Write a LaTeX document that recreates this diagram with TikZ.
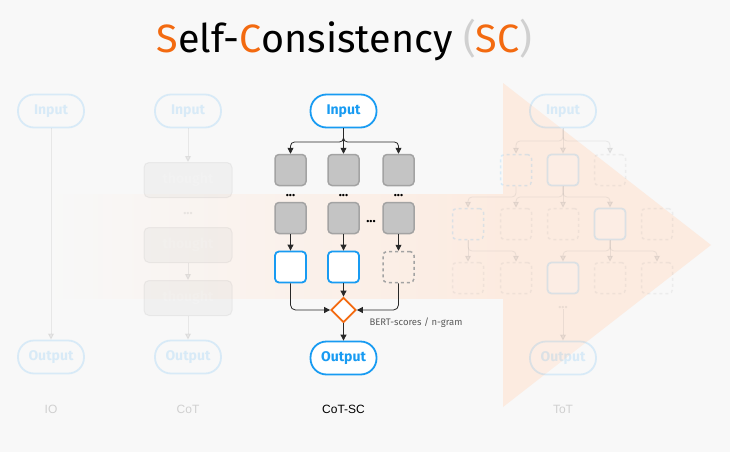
\documentclass[tikz,border=0pt]{standalone}
\usepackage{fontspec}
\setmainfont{Fira Sans}
\newfontfamily\labelfont{Liberation Sans}
\usetikzlibrary{arrows.meta}
\usetikzlibrary{positioning}
\usetikzlibrary{shapes.geometric}

\definecolor{sblue}{RGB}{24,155,242}
\definecolor{sorange}{RGB}{243,106,16}
\definecolor{bgcol}{RGB}{248,248,248}
\definecolor{tint}{RGB}{252,235,224}
\definecolor{gfill}{RGB}{196,196,196}
\definecolor{gline}{RGB}{163,163,163}
\definecolor{darkline}{RGB}{40,40,40}
\definecolor{lgray}{RGB}{208,208,208}
\definecolor{scoregray}{RGB}{90,90,90}

\tikzset{
  term/.style={draw=sblue, line width=1.8pt, fill=white, rounded corners=16pt,
    minimum width=66pt, minimum height=33pt, text=sblue,
    font=\fontsize{14}{14}\selectfont\bfseries},
  gbox/.style={draw=gline, fill=gfill, line width=1.5pt, rounded corners=4pt,
    minimum size=31pt, inner sep=0pt},
  bbox/.style={draw=sblue, fill=white, line width=1.8pt, rounded corners=4pt,
    minimum size=31pt, inner sep=0pt},
  dbox/.style={draw=gline, dashed, line width=1.5pt, rounded corners=4pt,
    minimum size=31pt, inner sep=0pt},
  dbbox/.style={dbox, draw=sblue},
  thought/.style={fill=gfill, draw=gline, line width=1pt, rounded corners=5pt,
    minimum width=88pt, minimum height=35pt, text=white,
    font=\fontsize{14}{14}\selectfont\bfseries},
  vote/.style={diamond, draw=sorange, fill=white, line width=1.8pt,
    minimum size=25pt, inner sep=0pt},
  dots/.style={font=\fontsize{13}{13}\selectfont\bfseries, inner sep=0pt},
  caplabel/.style={font=\labelfont\fontsize{12}{12}\selectfont},
  arr/.style={-{Triangle[length=6pt,width=6pt]}, draw=darkline, line width=0.8pt},
  farr/.style={arr, draw=gray},
  fade/.style={opacity=0.14},
}

\begin{document}
\begin{tikzpicture}[x=1pt, y=-1pt]
  \fill[bgcol] (0,0) rectangle (730,452);
  \useasboundingbox (0,0) rectangle (730,452);

  % big arrow behind everything
  \shade[left color=bgcol, right color=tint] (45,194) rectangle (504,298);
  \fill[tint] (503,83) -- (711,245) -- (503,407) -- cycle;

  % title
  \node (title) at (344.5,40) {\fontsize{39.5}{39.5}\selectfont
    \textcolor{sorange}{S}elf-\textcolor{sorange}{C}onsistency
    \textcolor{lgray}{(}\textcolor{sorange}{SC}\textcolor{lgray}{)}};

  % IO
  \begin{scope}[fade]
    \node[term] (ioin) at (51,111) {Input};
    \node[term] (ioout) at (51,357) {Output};
    \draw[farr] (ioin) -- (ioout);
  \end{scope}
  \node[caplabel, text=lgray] (iolab) at (51,409) {IO};

  % CoT
  \begin{scope}[fade]
    \node[term] (cotin) at (188,111) {Input};
    \node[thought] (th1) at (188,180) {thought};
    \node[dots, text=gray] (cotdots) at (188,214) {...};
    \node[thought] (th2) at (188,245) {thought};
    \node[thought] (th3) at (188,298) {thought};
    \node[term] (cotout) at (188,357) {Output};
    \draw[farr] (cotin) -- (th1);
    \draw[farr] (th2) -- (th3);
    \draw[farr] (th3) -- (cotout);
  \end{scope}
  \node[caplabel, text=lgray] (cotlab) at (188,409) {CoT};

  % ToT
  \begin{scope}[fade]
    \node[term] (totin) at (563,111) {Input};
    \node[dbbox] (p1) at (516,170) {};
    \node[bbox] (p2) at (563,170) {};
    \node[dbox] (p3) at (610,170) {};
    \node[dbbox] (q1) at (468,224) {};
    \node[dbox] (q2) at (516,224) {};
    \node[dbox] (q3) at (563,224) {};
    \node[bbox] (q4) at (610,224) {};
    \node[dbox] (q5) at (657,224) {};
    \node[dbox] (r1) at (468,278) {};
    \node[dbox] (r2) at (516,278) {};
    \node[bbox] (r3) at (563,278) {};
    \node[dbox] (r4) at (610,278) {};
    \node[dbox] (r5) at (657,278) {};
    \node[dots, text=gray] (totdots) at (563,308) {...};
    \node[term] (totout) at (563,358) {Output};

    \coordinate (ts0) at (563,141);
    \coordinate (ts1) at (516,197);
    \coordinate (ts2) at (563,197);
    \coordinate (ts3) at (468,251);
    \coordinate (ts4) at (610,251);
    \draw[farr] (totin) -- (p2);
    \draw[farr, rounded corners=4pt] (totin.south) -- (ts0) -| (p1.north);
    \draw[farr, rounded corners=4pt] (totin.south) -- (ts0) -| (p3.north);
    \draw[farr, rounded corners=4pt] (p1.south) -- (ts1) -| (q1.north);
    \draw[farr] (p2) -- (q3);
    \draw[farr, rounded corners=4pt] (p2.south) -- (ts2) -| (q2.north);
    \draw[farr, rounded corners=4pt] (p2.south) -- (ts2) -| (q4.north);
    \draw[farr] (q1) -- (r1);
    \draw[farr, rounded corners=4pt] (q1.south) -- (ts3) -| (r2.north);
    \draw[farr] (q4) -- (r4);
    \draw[farr, rounded corners=4pt] (q4.south) -- (ts4) -| (r3.north);
    \draw[farr, rounded corners=4pt] (q4.south) -- (ts4) -| (r5.north);
    \draw[farr] (totdots) -- (totout);
  \end{scope}
  \node[caplabel, text=lgray] (totlab) at (563,409) {ToT};

  % CoT-SC
  \node[term] (scin) at (343.5,111) {Input};
  \node[gbox] (a1) at (290.5,170) {};
  \node[gbox] (a2) at (343.5,170) {};
  \node[gbox] (a3) at (398.5,170) {};
  \node[dots] (d1) at (290.5,196) {...};
  \node[dots] (d2) at (343.5,196) {...};
  \node[dots] (d3) at (398.5,196) {...};
  \node[gbox] (b1) at (290.5,218) {};
  \node[gbox] (b2) at (343.5,218) {};
  \node[gbox] (b3) at (398.5,218) {};
  \node[dots] (dmid) at (371,222) {...};
  \node[bbox] (c1) at (290.5,267) {};
  \node[bbox] (c2) at (343.5,267) {};
  \node[dbox] (c3) at (398.5,267) {};
  \node[vote] (vote) at (343.5,310) {};
  \node[term] (scout) at (343.5,358) {Output};
  \node[anchor=west, text=scoregray, font=\fontsize{9.5}{9.5}\selectfont]
    (score) at (366,323) {BERT-scores / n-gram};
  \node[caplabel] (sclab) at (343.5,409) {CoT-SC};

  \coordinate (split) at (343.5,142);
  \draw[arr] (scin) -- (a2);
  \draw[arr, rounded corners=4pt] (scin.south) -- (split) -| (a1.north);
  \draw[arr, rounded corners=4pt] (scin.south) -- (split) -| (a3.north);
  \draw[arr] (b1) -- (c1);
  \draw[arr] (b2) -- (c2);
  \draw[arr] (b3) -- (c3);
  \draw[arr, rounded corners=5pt] (c1.south) |- (vote.west);
  \draw[arr] (c2) -- (vote);
  \draw[arr, rounded corners=5pt] (c3.south) |- (vote.east);
  \draw[arr] (vote) -- (scout);
\end{tikzpicture}
\end{document}
